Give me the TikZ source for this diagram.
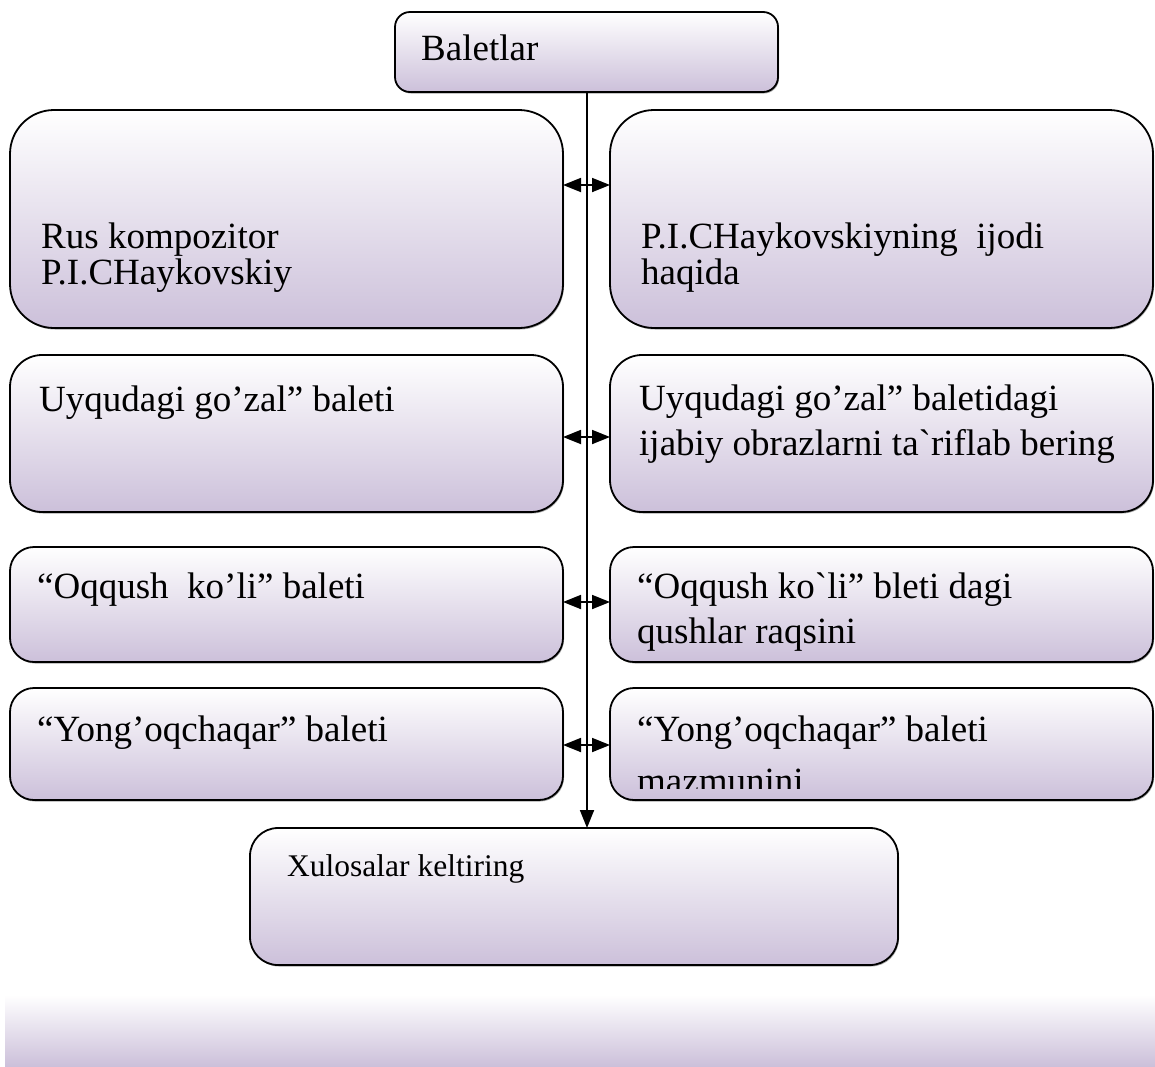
\documentclass[tikz,border=0pt]{standalone}
\usepackage{fontspec}
\usetikzlibrary{arrows.meta,shadows}
\newfontfamily\rf{Liberation Serif}
\definecolor{lav}{RGB}{204,192,218}
\tikzset{
  x=1pt, y=-1pt,
  box/.style={draw=black, line width=1.8pt, top color=white, bottom color=lav,
    anchor=north west, inner sep=0pt, outer sep=0pt,
    drop shadow={shadow xshift=1pt, shadow yshift=-1.5pt, opacity=0.35, fill=black}},
  txt/.style={anchor=base west, inner sep=0pt, font=\rf\fontsize{37}{42}\selectfont},
  smalltxt/.style={anchor=base west, inner sep=0pt, font=\rf\fontsize{31.5}{36}\selectfont},
  link/.style={line width=1.8pt, {Triangle[length=18pt,width=14pt]}-{Triangle[length=18pt,width=14pt]}},
  trunk/.style={line width=1.8pt, -{Triangle[length=18pt,width=14pt]}}
}
\begin{document}
\begin{tikzpicture}
\useasboundingbox (0,0) rectangle (1155,1066);
% bottom gradient strip
\fill[top color=white, bottom color=lav] (5,995) rectangle (1155,1066);
% boxes
\node[box, rounded corners=15pt, minimum width=383pt, minimum height=80pt] (top) at (395,12) {};
\node[box, rounded corners=44pt, minimum width=553pt, minimum height=218pt] (l1) at (10,110) {};
\node[box, rounded corners=44pt, minimum width=543pt, minimum height=218pt] (r1) at (610,110) {};
\node[box, rounded corners=32pt, minimum width=553pt, minimum height=157pt] (l2) at (10,355) {};
\node[box, rounded corners=32pt, minimum width=543pt, minimum height=157pt] (r2) at (610,355) {};
\node[box, rounded corners=24pt, minimum width=553pt, minimum height=115pt] (l3) at (10,547) {};
\node[box, rounded corners=24pt, minimum width=543pt, minimum height=115pt] (r3) at (610,547) {};
\node[box, rounded corners=24pt, minimum width=553pt, minimum height=112pt] (l4) at (10,688) {};
\node[box, rounded corners=24pt, minimum width=543pt, minimum height=112pt] (r4) at (610,688) {};
\node[box, rounded corners=28pt, minimum width=648pt, minimum height=137pt] (bot) at (250,828) {};
% texts
\node[txt] (ttop) at (421,60) {Baletlar};
\node[txt] (tl1a) at (41,248) {Rus kompozitor};
\node[txt] (tl1b) at (41,284) {P.I.CHaykovskiy};
\node[txt] (tr1a) at (641,248) {P.I.CHaykovskiyning~ ijodi};
\node[txt] (tr1b) at (641,284) {haqida};
\node[txt] (tl2) at (39,411) {Uyqudagi go’zal” baleti};
\node[txt] (tr2a) at (639,410) {Uyqudagi go’zal” baletidagi};
\node[txt] (tr2b) at (639,455) {ijabiy obrazlarni ta`riflab bering};
\node[txt] (tl3) at (37,598) {“Oqqush~ ko’li” baleti};
\node[txt] (tr3a) at (637,598) {“Oqqush ko`li” bleti dagi};
\begin{scope}
\clip (612,605) rectangle (1150,650);
\node[txt] (tr3b) at (637,643) {qushlar raqsini};
\end{scope}
\node[txt] (tl4) at (37,741) {“Yong’oqchaqar” baleti};
\node[txt] (tr4a) at (637,741) {“Yong’oqchaqar” baleti};
\begin{scope}
\clip (612,750) rectangle (1150,788);
\node[txt] (tr4b) at (637,793) {mazmunini};
\end{scope}
\node[smalltxt] (tbot) at (287,876) {Xulosalar keltiring};
% connectors
\draw[trunk] (top.south -| 587,0) -- (bot.north -| 587,0);
\coordinate (a1) at (587,185);
\coordinate (a2) at (587,437);
\coordinate (a3) at (587,602);
\coordinate (a4) at (587,745);
\draw[link] (a1 -| l1.east) -- (a1 -| r1.west);
\draw[link] (a2 -| l2.east) -- (a2 -| r2.west);
\draw[link] (a3 -| l3.east) -- (a3 -| r3.west);
\draw[link] (a4 -| l4.east) -- (a4 -| r4.west);
\end{tikzpicture}
\end{document}
